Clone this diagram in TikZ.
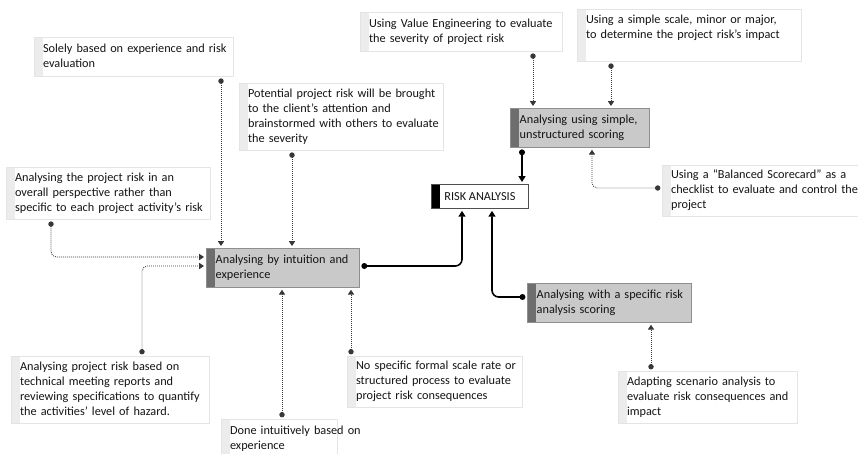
\documentclass[tikz,border=0pt]{standalone}
\usepackage{fontspec}
\setmainfont{Carlito}
\usepackage{xcolor}
\definecolor{ink}{HTML}{141414}
\definecolor{edge}{HTML}{E4E4E4}
\definecolor{strip}{HTML}{ECECEC}
\definecolor{mainfill}{HTML}{C9C9C9}
\definecolor{mainedge}{HTML}{8E8E8E}
\definecolor{mainstrip}{HTML}{6E6E6E}
\usetikzlibrary{arrows.meta,calc}
\tikzset{
  every picture/.style={font=\fontsize{9.2}{11.25}\selectfont, line width=0.6pt},
  note/.style n args={3}{anchor=north west, draw=edge, fill=white, align=left,
    text width=#1, minimum height=#2, inner xsep=6.5pt, inner ysep=2pt, text=ink,
    path picture={\fill[#3] (path picture bounding box.north west) rectangle
      ([xshift=6.75pt]path picture bounding box.south west);}},
  stage/.style n args={2}{note={#1}{#2}{mainstrip}, draw=mainedge, fill=mainfill, inner xsep=7pt},
  hub/.style={note={}{18pt}{black}, text width=, draw=ink!75, align=center,
    minimum width=72.75pt},
  dotlink/.style={{Circle[length=4pt]}-{Triangle[length=3.6pt,width=4.6pt]},
    draw=ink!85, line width=0.6pt, dash pattern=on 0.7pt off 0.8pt,
    rounded corners=4pt, shorten <=1.2pt, shorten >=1.5pt},
  solidlink/.style={{Circle[length=4.4pt]}-{Triangle[length=4.4pt,width=5.2pt]},
    draw=black, line width=1.2pt, rounded corners=5pt, shorten <=1.2pt, shorten >=1.5pt},
}
% lines set as given, never wrapped
\newcommand{\lines}[1]{\begin{tabular}{@{}l@{}}#1\end{tabular}}

\begin{document}
\begin{tikzpicture}[x=0.75pt, y=-0.75pt]
  \useasboundingbox (0,0) rectangle (858,454);
  % central items
  \node[hub] (risk) at (431,184) {RISK ANALYSIS};
  \node[stage={100.75pt}{29.25pt}] (intuition) at (206,248) {\lines{Analysing by intuition and\\experience}};
  \node[stage={90.25pt}{29.25pt}] (simple) at (510,108) {\lines{Analysing using simple,\\unstructured scoring}};
  \node[stage={109pt}{29.25pt}] (specific) at (527,283) {\lines{Analysing with a specific risk\\analysis scoring}};
  % notes round the intuition item
  \node[note={136.25pt}{29.25pt}{strip}] (solely) at (34,37) {\lines{Solely based on experience and risk\\evaluation}};
  \node[note={140pt}{50.25pt}{strip}] (potential) at (239,83) {\lines{Potential project risk will be brought\\to the client’s attention and\\brainstormed with others to evaluate\\the severity}};
  \node[note={140pt}{39pt}{strip}] (overall) at (6,167) {\lines{Analysing the project risk in an\\overall perspective rather than\\specific to each project activity’s risk}};
  \node[note={135.5pt}{50.25pt}{strip}] (technical) at (11,356) {\lines{Analysing project risk based on\\technical meeting reports and\\reviewing specifications to quantify\\the activities’ level of hazard.}};
  \node[note={74pt}{30pt}{strip}] (done) at (221,419) {\lines{Done intuitively based on\\experience}};
  \node[note={118.25pt}{38.25pt}{strip}] (nospec) at (347,356) {\lines{No specific formal scale rate or\\structured process to evaluate\\project risk consequences}};
  % notes round the scoring items
  \node[note={138.5pt}{29.25pt}{strip}] (valeng) at (360,12) {\lines{Using Value Engineering to evaluate\\the severity of project risk}};
  \node[note={155pt}{39pt}{strip}] (scale) at (577,9) {\lines{Using a simple scale, minor or major,\\to determine the project risk’s impact\\\strut}};
  \node[note={140pt}{38.25pt}{strip}] (balanced) at (662,165) {\lines{Using a “Balanced Scorecard” as a\\checklist to evaluate and control the\\project}};
  \node[note={121.25pt}{39pt}{strip}] (adapting) at (618,371) {\lines{Adapting scenario analysis to\\evaluate risk consequences and\\impact}};
  % dotted links
  \draw[dotlink] ($(solely.south west)+(187,0)$) -- ($(intuition.north west)+(15,0)$);
  \draw[dotlink] ($(potential.south west)+(53,0)$) -- ($(intuition.north west)+(86,0)$);
  \draw[dotlink] ($(overall.south west)+(45,0)$) |- ($(intuition.north west)+(0,9)$);
  \draw[dotlink] ($(technical.north west)+(131,0)$) |- ($(intuition.north west)+(0,18)$);
  \draw[dotlink] ($(done.north west)+(61,0)$) -- ($(intuition.south west)+(76,0)$);
  \draw[dotlink] ($(nospec.north west)+(4,0)$) -- ($(intuition.south west)+(145,0)$);
  \draw[dotlink] ($(valeng.south west)+(173,0)$) -- ($(simple.north west)+(23,0)$);
  \draw[dotlink] ($(scale.south west)+(34,0)$) -- ($(simple.north west)+(101,0)$);
  \draw[dotlink] ($(balanced.north west)+(0,23)$) -| ($(simple.south west)+(82,0)$);
  \draw[dotlink] ($(adapting.north west)+(33,0)$) -- ($(specific.south west)+(124,0)$);
  % solid links into the hub
  \draw[solidlink] ($(intuition.north east)+(0,18)$) -| ($(risk.south west)+(31,0)$);
  \draw[solidlink] ($(simple.south west)+(12,0)$) -- ($(risk.north west)+(91,0)$);
  \draw[solidlink] ($(specific.north west)+(0,14)$) -| ($(risk.south west)+(61,0)$);
\end{tikzpicture}
\end{document}
